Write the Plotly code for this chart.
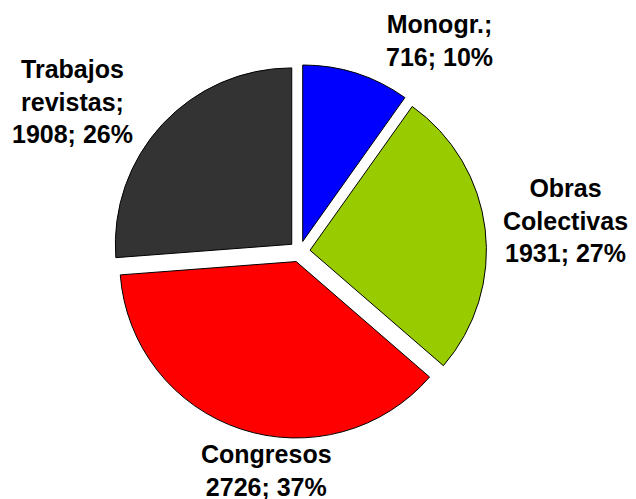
import plotly.graph_objects as go

categories = ["Monogr.;", "Obras<br>Colectivas", "Congresos", "Trabajos<br>revistas;"]
values = [716, 1931, 2726, 1908]
colors = ["#0000FF", "#99CC00", "#FF0000", "#333333"]

# page body has an 8px margin, so the figure is drawn slightly smaller
OFF = 8
W, H = 636 - OFF, 499 - OFF
cx, cy, half = 299.5 - OFF, 251.5 - OFF, 187

# label centres in window pixels
label_pos = [(439, 40), (565, 220), (266, 470), (72, 102)]

total = sum(values)
FONT = "Liberation Sans, Arial, sans-serif"

fig = go.Figure(go.Pie(
    labels=categories,
    values=values,
    sort=False,
    direction="clockwise",
    rotation=0,
    pull=[0.06] * len(values),
    marker=dict(colors=colors, line=dict(color="#000000", width=1)),
    textinfo="none",
    domain=dict(x=[(cx - half) / W, (cx + half) / W], y=[1 - (cy + half) / H, 1 - (cy - half) / H]),
    hoverinfo="skip",
))

for lab, v, (px, py) in zip(categories, values, label_pos):
    fig.add_annotation(
        x=(px - OFF) / W, y=1 - (py - OFF) / H, xref="paper", yref="paper",
        xanchor="center", yanchor="middle", showarrow=False, align="center",
        text=f"<b>{lab}<br>{v}; {round(100 * v / total)}%</b>",
        font=dict(family=FONT, size=25, color="#000000"),
    )

fig.update_layout(
    width=W, height=H,
    margin=dict(l=0, r=0, t=0, b=0),
    showlegend=False,
    paper_bgcolor="#FFFFFF",
    plot_bgcolor="#FFFFFF",
    font=dict(family=FONT, size=25, color="#000000"),
)

fig.write_html("out.html")
